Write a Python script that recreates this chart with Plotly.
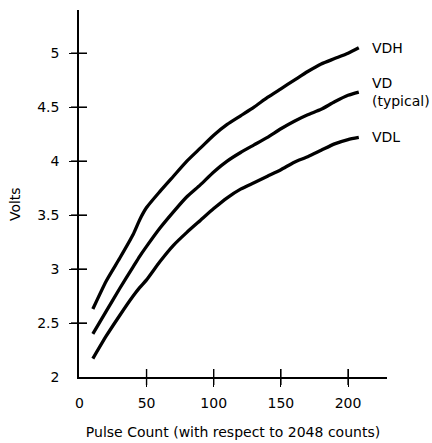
import plotly.graph_objects as go

pulse_count = [10, 20, 30, 40, 45, 50, 60, 70, 80, 90, 100, 110, 120, 130, 140, 150, 160, 170, 180, 190, 200, 208]
vdh = [2.63, 2.89, 3.10, 3.32, 3.46, 3.57, 3.72, 3.86, 4.00, 4.12, 4.24, 4.34, 4.42, 4.50, 4.59, 4.67, 4.75, 4.83, 4.90, 4.95, 5.00, 5.05]
vd = [2.40, 2.61, 2.82, 3.02, 3.12, 3.21, 3.38, 3.53, 3.67, 3.78, 3.90, 4.00, 4.08, 4.15, 4.22, 4.30, 4.37, 4.43, 4.48, 4.55, 4.61, 4.64]
vdl = [2.17, 2.38, 2.57, 2.75, 2.83, 2.90, 3.07, 3.22, 3.34, 3.45, 3.56, 3.66, 3.74, 3.80, 3.86, 3.92, 3.99, 4.04, 4.10, 4.16, 4.20, 4.22]

series_names = ["VDH", "VD<br>(typical)", "VDL"]
series_values = [vdh, vd, vdl]

x_label_vals = [0, 50, 100, 150, 200]
x_tick_vals = [50, 100, 150, 200]
y_label_vals = [2, 2.5, 3, 3.5, 4, 4.5, 5]
y_label_text = ["2", "2.5", "3", "3.5", "4", "4.5", "5"]
y_tick_vals = [2.5, 3, 3.5, 4, 4.5, 5]

x_range = [-0.3, 229]
y_range = [2, 5.4]

FONT = "DejaVu Sans"
FS = 14
TICK_HALF = 8
EPS = 1e-6
fig = go.Figure()

for name, vals in zip(series_names, series_values):
    fig.add_trace(go.Scatter(x=pulse_count, y=vals, mode="lines", name=name,
                             line=dict(color="black", width=3.3, shape="spline", smoothing=0.6),
                             showlegend=False, hoverinfo="skip"))
    fig.add_annotation(x=pulse_count[-1], y=vals[-1], text=name, showarrow=False,
                       xanchor="left", yanchor="middle", align="left", xshift=11, yshift=0,
                       font=dict(family=FONT, size=FS, color="black"))

# outer halves of the crossing tick marks (positioned on the axes' own scales)
for v in x_tick_vals:
    fig.add_shape(type="line", xref="x", x0=v, x1=v, yref="paper", ysizemode="pixel",
                  yanchor=0, y0=-TICK_HALF, y1=TICK_HALF, line=dict(color="black", width=1.4))
for v in y_tick_vals:
    fig.add_shape(type="line", yref="y", y0=v, y1=v, xref="paper", xsizemode="pixel",
                  xanchor=0, x0=-TICK_HALF, x1=TICK_HALF, line=dict(color="black", width=1.4))

fig.update_layout(
    width=432, height=443,
    margin=dict(l=79, r=45, t=10, b=66, autoexpand=False),
    paper_bgcolor="white", plot_bgcolor="white",
    font=dict(family=FONT, size=FS, color="black"),
    xaxis=dict(range=x_range, tickvals=x_label_vals, ticktext=[str(v) for v in x_label_vals],
               ticks="inside", ticklen=TICK_HALF, tickwidth=1.4, tickcolor="black",
               minor=dict(tickvals=[v + EPS for v in x_tick_vals], ticks="outside",
                          ticklen=TICK_HALF, tickwidth=1.4, tickcolor="black", showgrid=False),
               showgrid=False, zeroline=False, showline=True, linecolor="black", linewidth=1.5,
               ticklabelstandoff=12, automargin=False,
               title=dict(text="Pulse Count (with respect to 2048 counts)", standoff=18,
                          font=dict(family=FONT, size=FS))),
    yaxis=dict(range=y_range, tickvals=y_label_vals, ticktext=y_label_text,
               ticks="inside", ticklen=TICK_HALF, tickwidth=1.4, tickcolor="black",
               minor=dict(tickvals=[v + EPS for v in y_tick_vals], ticks="outside",
                          ticklen=TICK_HALF, tickwidth=1.4, tickcolor="black", showgrid=False),
               showgrid=False, zeroline=False, showline=True, linecolor="black", linewidth=1.5,
               ticklabelstandoff=15, automargin=False),
)

fig.add_annotation(text="Volts", xref="paper", yref="paper", x=-0.208, y=0.471,
                   textangle=-90, showarrow=False, xanchor="center", yanchor="middle",
                   font=dict(family=FONT, size=FS, color="black"))

fig.write_html("out.html", config={"displayModeBar": False},
               post_script="document.body.style.margin='0';document.body.style.overflow='hidden';")
